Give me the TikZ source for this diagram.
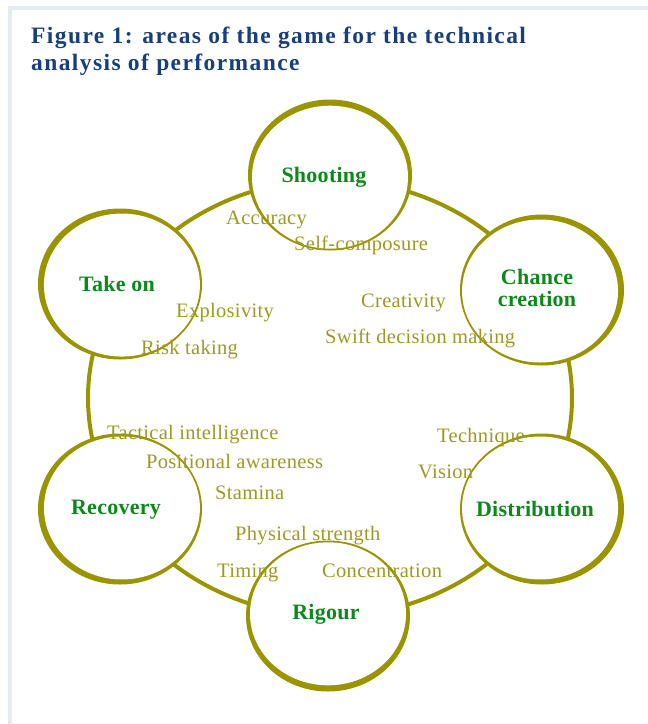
\documentclass[tikz,border=0pt]{standalone}
\usepackage{fontspec}
\setmainfont{Liberation Serif}
\usetikzlibrary{calc}

\definecolor{ringolive}{HTML}{999400}
\definecolor{skillolive}{HTML}{9C9A22}
\definecolor{areagreen}{HTML}{0A8A1A}
\definecolor{titleblue}{HTML}{173F7C}
\definecolor{framegray}{HTML}{E5EBF2}

\begin{document}
\begin{tikzpicture}[x=1pt,y=-1pt,
    area/.style={font=\bfseries\fontsize{22}{21.5}\selectfont\addfontfeature{LetterSpace=1.2},
                 text=areagreen, align=center, inner sep=0pt},
    skill/.style={font=\fontsize{20.5}{22}\selectfont\addfontfeature{LetterSpace=1.5},
                  text=skillolive, anchor=base west, inner sep=0pt},
    heading/.style={font=\bfseries\fontsize{23.5}{27}\selectfont\addfontfeature{LetterSpace=6},
                    text=titleblue, anchor=base west, inner sep=0pt}]
\useasboundingbox (0,0) rectangle (648,724);

% frame
\draw[framegray, line width=4pt] (10,726) -- (10,8) -- (660,8);
\draw[framegray!50, line width=1pt] (10,723.5) -- (650,723.5);

% title
\node[heading] (title1) at (31,43) {Figure 1: areas of the game for the technical};
\node[heading] (title2) at (31,70) {analysis of performance};

% ring through the six areas
\coordinate (O) at (330,398);
\draw[ringolive, line width=4pt] (O) ellipse [x radius=242, y radius=218];

% circles, heavier on the outer side
\foreach \x/\y in {330/175, 120/284, 542/290, 542/509, 120/509, 328/616} {
  \fill[ringolive] (\x,\y) ellipse [x radius=82, y radius=75.5];
  \fill[white] ($(\x,\y)!2.2pt!(O)$) ellipse [x radius=78, y radius=71.5];
}

% areas
\node[area] (shooting) at (324,177) {Shooting};
\node[area] (takeon) at (117,284) {Take on};
\node[area] (chance) at (537,288) {Chance\\creation};
\node[area] (distribution) at (535,509) {Distribution};
\node[area] (recovery) at (116,510) {Recovery};
\node[area] (rigour) at (326,614) {Rigour};

% skills
\node[skill] (accuracy) at (226,224) {Accuracy};
\node[skill] (selfcomp) at (294,250) {Self-composure};
\node[skill] (explosivity) at (176,317) {Explosivity};
\node[skill] (risk) at (141,354) {Risk taking};
\node[skill] (creativity) at (361,307) {Creativity};
\node[skill] (swift) at (325,343) {Swift decision making};
\node[skill] (technique) at (437,442) {Technique};
\node[skill] (vision) at (418,478) {Vision};
\node[skill] (tactical) at (107,439) {Tactical intelligence};
\node[skill] (positional) at (146,468) {Positional awareness};
\node[skill] (stamina) at (215,499) {Stamina};
\node[skill] (physical) at (235,540) {Physical strength};
\node[skill] (timing) at (217,577) {Timing};
\node[skill] (concentration) at (322,577) {Concentration};
\end{tikzpicture}
\end{document}
